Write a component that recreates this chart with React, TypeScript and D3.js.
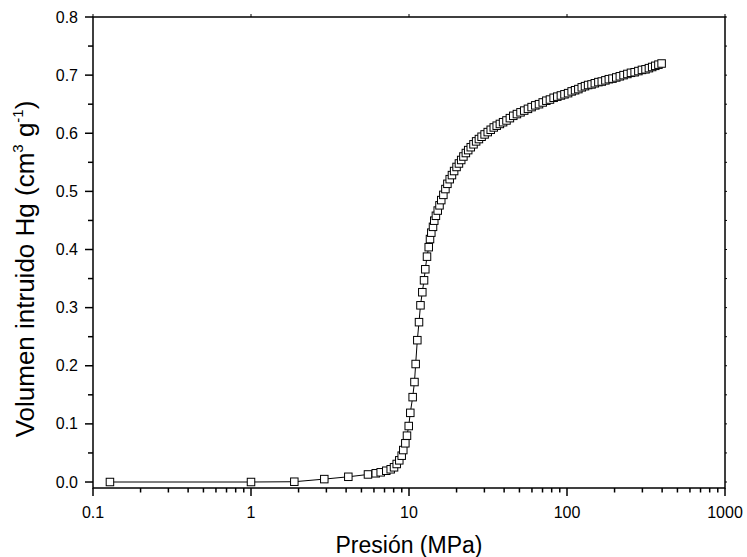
import React from "react";
import * as d3 from "d3";

const pressure = [0.128, 1.0, 1.88, 2.91, 4.13, 5.5, 6.16, 6.62, 7.18, 7.66, 8.04, 8.36, 8.68, 8.99, 9.2, 9.48, 9.71, 9.96, 10.19, 10.55, 10.83, 11.02, 11.29, 11.57, 11.82, 12.14, 12.45, 12.68, 13.0, 13.33, 13.58, 13.84, 14.19, 14.45, 14.8, 15.2, 15.6, 16.0, 16.5, 17.0, 17.5, 18.1, 18.7, 19.3, 20.0, 20.7, 21.4, 22.1, 22.9, 23.7, 24.6, 25.6, 26.6, 27.7, 28.8, 30.1, 31.5, 32.9, 34.4, 35.9, 37.6, 39.4, 41.4, 43.5, 45.7, 48.2, 50.8, 53.6, 56.6, 59.7, 63, 66.5, 70.2, 74, 78, 82.3, 86.8, 91.5, 96.4, 101.6, 107, 112.5, 118, 124, 130, 136, 143, 150, 158, 166, 175, 184, 194, 205, 216, 228, 241, 254, 268, 283, 298, 314, 330, 346, 362, 379, 397];

const volume = [0, 0, 0.0005, 0.005, 0.009, 0.013, 0.015, 0.0167, 0.0194, 0.0219, 0.0253, 0.031, 0.0373, 0.0453, 0.055, 0.0666, 0.0797, 0.0963, 0.119, 0.146, 0.172, 0.203, 0.244, 0.275, 0.304, 0.3265, 0.347, 0.366, 0.3877, 0.404, 0.418, 0.429, 0.439, 0.4496, 0.458, 0.467, 0.476, 0.485, 0.494, 0.504, 0.513, 0.521, 0.528, 0.535, 0.542, 0.548, 0.554, 0.56, 0.566, 0.571, 0.576, 0.581, 0.586, 0.59, 0.594, 0.598, 0.602, 0.606, 0.61, 0.613, 0.616, 0.619, 0.622, 0.626, 0.63, 0.633, 0.636, 0.639, 0.642, 0.645, 0.648, 0.65, 0.653, 0.656, 0.658, 0.661, 0.663, 0.665, 0.667, 0.669, 0.672, 0.674, 0.676, 0.679, 0.681, 0.683, 0.684, 0.686, 0.688, 0.689, 0.691, 0.693, 0.694, 0.696, 0.698, 0.7, 0.702, 0.704, 0.705, 0.707, 0.709, 0.71, 0.712, 0.714, 0.716, 0.718, 0.72];

const xMajorTicks = [0.1, 1, 10, 100, 1000];
const xTickLabels = ["0.1", "1", "10", "100", "1000"];
const yMajorTicks = [0.0, 0.1, 0.2, 0.3, 0.4, 0.5, 0.6, 0.7, 0.8];
const yTickLabels = ["0.0", "0.1", "0.2", "0.3", "0.4", "0.5", "0.6", "0.7", "0.8"];
const xTitle = "Presión (MPa)";

const W = 747, H = 557;
const L = 93, R = 725, T = 17, B = 488;
const FONT = "'Liberation Sans', Arial, Helvetica, sans-serif";

export default function App() {
  const x = d3.scaleLog().domain([0.1, 1000]).range([L, R]);
  const y = d3.scaleLinear().domain([-0.0103, 0.8]).range([B, T]);

  const pts = pressure.map((p, i) => [p, volume[i]] as [number, number]);
  const line = d3.line<[number, number]>().x(d => x(d[0])).y(d => y(d[1]));

  const xMinor: number[] = [];
  for (const dec of [0.1, 1, 10, 100]) for (let k = 2; k <= 9; k++) xMinor.push(dec * k);
  const yMinor: number[] = d3.range(0, 8).map(i => i * 0.1 + 0.05);

  const ms = 7.5;

  return (
    <svg width={W} height={H} style={{ position: "absolute", left: 0, top: 0, background: "#fff" }} fontFamily={FONT}>
      <rect x={0} y={0} width={W} height={H} fill="#fff" />
      <path d={line(pts) || ""} fill="none" stroke="#000" strokeWidth={1} />
      {pts.map((d, i) => (
        <rect key={i} x={x(d[0]) - ms / 2} y={y(d[1]) - ms / 2} width={ms} height={ms} fill="#fff" stroke="#000" strokeWidth={1} />
      ))}
      <rect x={L} y={T} width={R - L} height={B - T} fill="none" stroke="#000" strokeWidth={1.5} />
      {xMajorTicks.map((t, i) => (
        <g key={"xm" + i}>
          <line x1={x(t)} x2={x(t)} y1={B} y2={B + 8} stroke="#000" strokeWidth={1.5} />
          <line x1={x(t)} x2={x(t)} y1={T} y2={T - 3} stroke="#000" strokeWidth={1} />
          <text x={x(t)} y={518} textAnchor="middle" fontSize={16}>{xTickLabels[i]}</text>
        </g>
      ))}
      {xMinor.map((t, i) => (
        <line key={"xn" + i} x1={x(t)} x2={x(t)} y1={B} y2={B + 4.5} stroke="#000" strokeWidth={1.5} />
      ))}
      {yMajorTicks.map((t, i) => (
        <g key={"ym" + i}>
          <line x1={L - 8} x2={L} y1={y(t)} y2={y(t)} stroke="#000" strokeWidth={1.5} />
          <line x1={R} x2={R + 2} y1={y(t)} y2={y(t)} stroke="#000" strokeWidth={1} />
          <text x={78} y={y(t) + 5.5} textAnchor="end" fontSize={16}>{yTickLabels[i]}</text>
        </g>
      ))}
      {yMinor.map((t, i) => (
        <g key={"yn" + i}>
          <line x1={L - 5} x2={L} y1={y(t)} y2={y(t)} stroke="#000" strokeWidth={1.5} />
          <line x1={R} x2={R + 2} y1={y(t)} y2={y(t)} stroke="#000" strokeWidth={1} />
        </g>
      ))}
      <text x={(L + R) / 2} y={553} textAnchor="middle" fontSize={23}>{xTitle}</text>
      <text transform={`translate(34, 269) rotate(-90)`} textAnchor="middle" fontSize={26}>
        Volumen intruido Hg (cm<tspan fontSize={15} dy={-11}>3</tspan><tspan dy={11}> g</tspan><tspan fontSize={15} dy={-11}>-1</tspan><tspan dy={11}>)</tspan>
      </text>
    </svg>
  );
}
